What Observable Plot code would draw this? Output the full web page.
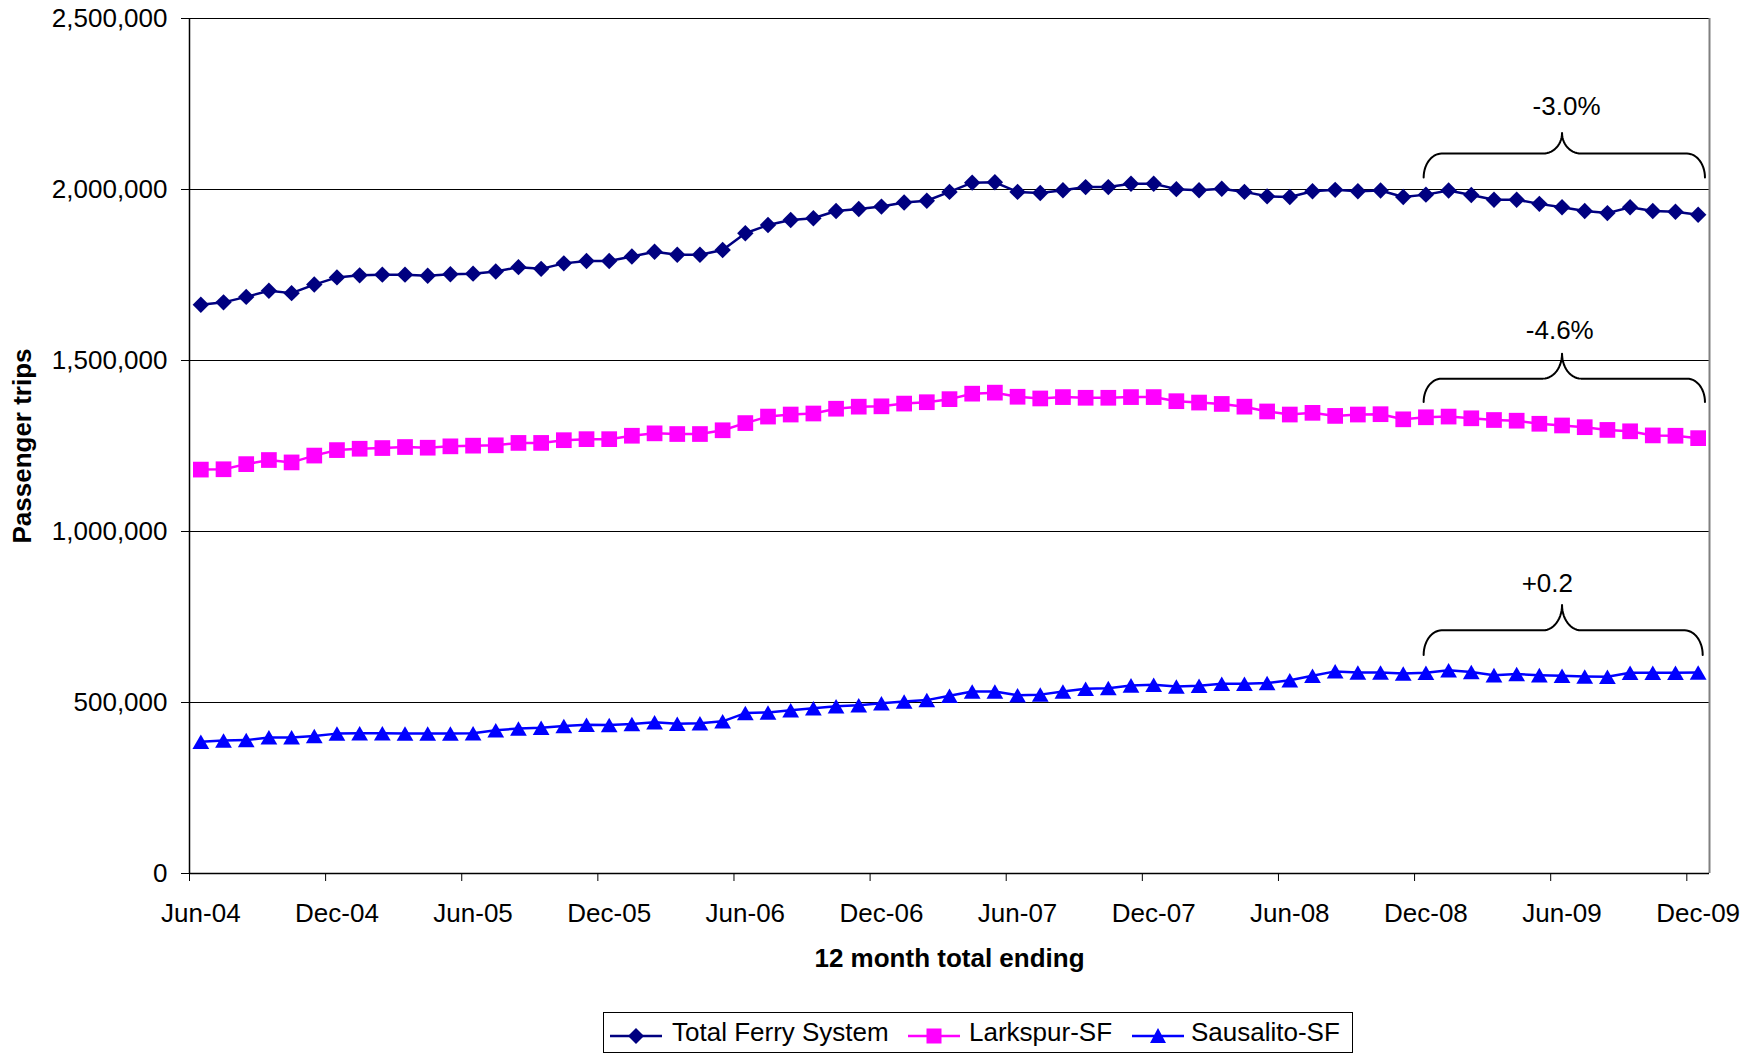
<!DOCTYPE html>
<html>
<head>
<meta charset="utf-8">
<script src="https://cdn.jsdelivr.net/npm/d3@7"></script>
<script src="https://cdn.jsdelivr.net/npm/@observablehq/plot@0.6"></script>
<style>
  html, body { margin: 0; padding: 0; background: #fff; }
  body { font-family: "Liberation Sans", Arial, sans-serif; width: 1761px; height: 1053px; position: relative; overflow: hidden; }
  #legend { position: absolute; left: 603px; top: 1012px; width: 748px; height: 39px; border: 1px solid #000; background: #fff; font-size: 26px; color: #000; }
  #legend .sw { position: absolute; top: 9px; }
  #legend .tx { position: absolute; top: 4px; white-space: nowrap; line-height: 30px; }
</style>
</head>
<body>
<div id="chart"></div>
<div id="legend"></div>
<script>
// ---- data ----
const tickLabels = ["Jun-04","Dec-04","Jun-05","Dec-05","Jun-06","Dec-06","Jun-07","Dec-07","Jun-08","Dec-08","Jun-09","Dec-09"];
const seriesNames = ["Total Ferry System", "Larkspur-SF", "Sausalito-SF"];
// thousands of passenger trips, 12-month totals ending Jun-04 ... Dec-09 (monthly)
const totalFerry = [1663,1670,1686,1704,1697,1722,1743,1749,1751,1751,1748,1752,1754,1760,1773,1768,1784,1791,1791,1804,1818,1809,1809,1823,
  1872,1896,1911,1916,1937,1943,1950,1962,1967,1993,2020,2021,1993,1990,1998,2007,2007,2017,2017,2001,1998,2002,1993,1980,
  1978,1995,1999,1995,1997,1978,1985,1997,1984,1970,1970,1958,1948,1937,1931,1948,1937,1935,1926];
const larkspur = [1181,1182,1197,1209,1202,1222,1238,1242,1244,1247,1245,1249,1251,1252,1259,1259,1267,1270,1270,1280,1287,1285,1285,1296,
  1317,1336,1342,1345,1359,1365,1366,1374,1378,1387,1403,1406,1394,1389,1393,1391,1391,1393,1393,1381,1377,1373,1365,1351,
  1342,1347,1338,1342,1343,1328,1334,1336,1331,1326,1324,1315,1310,1305,1297,1293,1281,1280,1273];
const sausalito = [385,389,390,398,398,402,409,410,410,409,409,409,410,419,424,426,431,435,434,437,442,438,439,445,
  469,471,477,483,489,492,498,503,507,520,532,532,521,523,532,540,542,550,552,547,549,555,555,557,
  565,578,591,588,588,585,587,594,589,580,583,580,578,576,575,587,587,587,588];
const yTicks = [0, 500000, 1000000, 1500000, 2000000, 2500000];
const changeLabels = ["-3.0%", "-4.6%", "+0.2"];

// ---- styles / layout ----
const colors = ["#000080", "#FF00FF", "#0000FF"];
const symbols = ["diamond2", "square2", "triangle2"];
const radii = [7.4, 10, 8];
const symDy = [0, 0, 2.4];
const W = 1761, H = 1000, mL = 189, mR = 52, mT = 18, mB = 127;
const nCat = totalFerry.length;
const pxX = (W - mL - mR) / nCat;          // px per category

const seriesValues = [totalFerry, larkspur, sausalito];
const rows = [];
seriesValues.forEach((arr, s) => arr.forEach((v, i) => rows.push({series: seriesNames[s], s, i, v: v * 1000})));

// annotation placement (brace geometry, in category index / value units)
const braces = [
  {x0: 53.9, x1: 66.3, xt: 60.0, yEnd: 2035000, yBar: 2105000, yTip: 2165000, lx: 60.2, ly: 2242000},
  {x0: 53.9, x1: 66.3, xt: 60.0, yEnd: 1379000, yBar: 1447000, yTip: 1520000, lx: 59.9, ly: 1587000},
  {x0: 53.9, x1: 66.2, xt: 60.0, yEnd: 639000,  yBar: 711000,  yTip: 785000,  lx: 59.35, ly: 848000}
];
function bracePath(b) {
  const pts = [];
  const rxE = 18 / pxX, ryE = b.yBar - b.yEnd;
  const rxT = 19 / pxX, ryT = b.yTip - b.yBar;
  const N = 14, h = Math.PI / 2;
  for (let k = 0; k <= N; k++) { const t = k / N * h; pts.push([b.x0 + rxE - rxE * Math.cos(t), b.yEnd + ryE * Math.sin(t)]); }
  for (let k = 0; k <= N; k++) { const t = k / N * h; pts.push([b.xt - rxT + rxT * Math.sin(t), b.yTip - ryT * Math.cos(t)]); }
  for (let k = 0; k <= N; k++) { const t = k / N * h; pts.push([b.xt + rxT - rxT * Math.cos(t), b.yTip - ryT * Math.sin(t)]); }
  for (let k = 0; k <= N; k++) { const t = k / N * h; pts.push([b.x1 - rxE + rxE * Math.sin(t), b.yEnd + ryE * Math.cos(t)]); }
  return pts;
}

const labelTicks = tickLabels.map((_, k) => k * 6);
const markTicks = tickLabels.map((_, k) => k * 6 - 0.5);

const marks = [
  Plot.ruleY(yTicks, {stroke: "#000", strokeWidth: 1}),
  Plot.ruleX([nCat - 0.5], {stroke: "#808080", strokeWidth: 2}),
  Plot.ruleX([-0.5], {stroke: "#000", strokeWidth: 1.5}),
  Plot.ruleY([0], {stroke: "#000", strokeWidth: 1.5}),
  Plot.axisY({ticks: yTicks, tickSize: 8, tickPadding: 14, tickFormat: d3.format(","), fontSize: 26, label: null}),
  Plot.axisX({ticks: markTicks, tickSize: 8, tickFormat: () => "", label: null}),
  Plot.axisX({ticks: labelTicks, tickSize: 0, tickPadding: 30, tickFormat: d => tickLabels[d / 6], fontSize: 26, label: null}),
];
seriesNames.forEach((name, s) => {
  const d = rows.filter(r => r.s === s);
  marks.push(Plot.line(d, {x: "i", y: "v", stroke: colors[s], strokeWidth: 2.5}));
});
seriesNames.forEach((name, s) => {
  const d = rows.filter(r => r.s === s);
  marks.push(Plot.dot(d, {x: "i", y: "v", symbol: symbols[s], r: radii[s], fill: colors[s], stroke: "none", dy: symDy[s]}));
});
braces.forEach((b, k) => {
  marks.push(Plot.line(bracePath(b), {x: d => d[0], y: d => d[1], stroke: "#000", strokeWidth: 2}));
  marks.push(Plot.text([changeLabels[k]], {x: () => b.lx, y: () => b.ly, text: d => d, fontSize: 26, fill: "#000", textAnchor: "middle", lineAnchor: "middle"}));
});
marks.push(Plot.text(["12 month total ending"], {frameAnchor: "bottom", dy: 85, text: d => d, fontSize: 26, fontWeight: "bold", fill: "#000", textAnchor: "middle", lineAnchor: "middle"}));
marks.push(Plot.text(["Passenger trips"], {frameAnchor: "left", dx: -167, rotate: -90, text: d => d, fontSize: 26, fontWeight: "bold", fill: "#000", textAnchor: "middle", lineAnchor: "middle"}));

const chart = Plot.plot({
  width: W, height: H,
  marginLeft: mL, marginRight: mR, marginTop: mT, marginBottom: mB,
  x: {type: "linear", domain: [-0.5, nCat - 0.5]},
  y: {domain: [0, 2500000]},
  style: {fontFamily: "'Liberation Sans', Arial, sans-serif", fontSize: "26px", color: "#000", background: "#fff", overflow: "visible"},
  marks
});
document.getElementById("chart").appendChild(chart);

// ---- legend ----
const legend = document.getElementById("legend");
const swLeft = [6, 304, 528], txLeft = [68, 365, 587];
const markerSvg = [
  '<path d="M26,2 L34,10 L26,18 L18,10 Z" fill="#000080"/>',
  '<rect x="18.5" y="2.5" width="15" height="15" fill="#FF00FF"/>',
  '<path d="M26,2 L34,17 L18,17 Z" fill="#0000FF"/>'
];
seriesNames.forEach((name, s) => {
  const sw = document.createElement("div");
  sw.className = "sw"; sw.style.left = swLeft[s] + "px";
  sw.innerHTML = `<svg width="52" height="20"><line x1="0" y1="10" x2="52" y2="10" stroke="${colors[s]}" stroke-width="2.5"/>${markerSvg[s]}</svg>`;
  legend.appendChild(sw);
  const tx = document.createElement("div");
  tx.className = "tx"; tx.style.left = txLeft[s] + "px"; tx.textContent = name;
  legend.appendChild(tx);
});
</script>
</body>
</html>
